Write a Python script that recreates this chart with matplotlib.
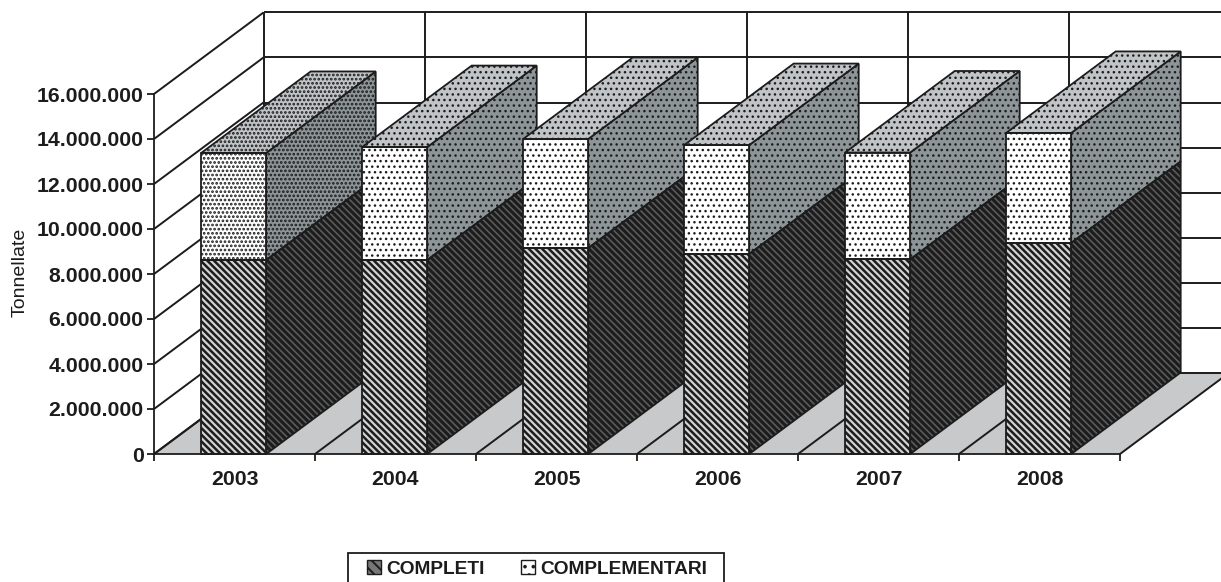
import matplotlib
matplotlib.use("Agg")
import matplotlib.pyplot as plt
from matplotlib.patches import Polygon, Patch, Rectangle

plt.rcParams["font.family"] = ["Liberation Sans", "DejaVu Sans"]

years = ["2003", "2004", "2005", "2006", "2007", "2008"]
completi = [8.62, 8.62, 9.15, 8.89, 8.65, 9.38]
complementari = [4.76, 5.02, 4.85, 4.84, 4.75, 4.89]
y_ticks = [0, 2, 4, 6, 8, 10, 12, 14, 16]
y_labels = ["0", "2.000.000", "4.000.000", "6.000.000", "8.000.000",
            "10.000.000", "12.000.000", "14.000.000", "16.000.000"]

W, H = 1221, 582
INK = "#1c1c1c"
# depth of the fake 3D, in category widths and millions of tonnes
DX = 109.5 / 161
DY = 81.5 / 22.5
BAR_W = 65 / 161
STRIPES = "\\" * 5

fig = plt.figure(figsize=(W / 100, H / 100), dpi=100)
ax = fig.add_axes([154 / W, 1 - 454 / H, 966 / W, 360 / H])
ax.set_xlim(0, 6)
ax.set_ylim(0, 16)
for side in ["top", "right"]:
    ax.spines[side].set_visible(False)
for side in ["left", "bottom"]:
    ax.spines[side].set_linewidth(1.3)
    ax.spines[side].set_color(INK)
    ax.spines[side].set_zorder(20)


def poly(pts, fc, hatch=None, z=5, lw=1.3, hlw=1.0):
    plt.rcParams["hatch.linewidth"] = hlw
    ax.add_patch(Polygon(pts, closed=True, facecolor=fc, edgecolor=INK, linewidth=0,
                         hatch=hatch, zorder=z, clip_on=False))
    if lw:
        ax.add_patch(Polygon(pts, closed=True, facecolor="none", edgecolor=INK, linewidth=lw,
                             zorder=z + 0.2, clip_on=False))


def line(xs, ys, z=2):
    ax.plot(xs, ys, color=INK, lw=1.4, zorder=z, clip_on=False, solid_capstyle="butt")


# floor
poly([(0, 0), (DX, DY), (6 + DX, DY), (6, 0)], "#c7c9ca", z=1, lw=0)
# walls
for t in y_ticks:
    line([0, DX], [t, t + DY])
    line([DX, 6.7], [t + DY, t + DY])
for i in range(7):
    if i < 6:
        line([i + DX, i + DX], [DY, 16 + DY])
    line([i, i + DX], [0, DY], z=3)

# bars
for i in range(len(years)):
    x0 = i + (1 - BAR_W) / 2 - 0.005
    x1 = x0 + BAR_W
    y1 = completi[i]
    y2 = y1 + complementari[i]
    dots = "...." if i == 0 else "..."
    dot_lw = 1.3 if i == 0 else 1.0
    poly([(x1, 0), (x1 + DX, DY), (x1 + DX, y1 + DY), (x1, y1)], "#5c5c5c", STRIPES, hlw=2.2)
    poly([(x0, 0), (x1, 0), (x1, y1), (x0, y1)], "#d4d4d4", STRIPES, z=6, hlw=1.8)
    poly([(x1, y1), (x1 + DX, y1 + DY), (x1 + DX, y2 + DY), (x1, y2)], "#8d9598", dots, hlw=dot_lw)
    poly([(x0, y1), (x1, y1), (x1, y2), (x0, y2)], "white", dots, z=6, hlw=dot_lw)
    poly([(x0, y2), (x1, y2), (x1 + DX, y2 + DY), (x0 + DX, y2 + DY)], "#c0c4c6", dots, z=6, hlw=dot_lw)

ax.set_yticks(y_ticks)
ax.set_yticklabels(y_labels, fontsize=15.3, fontweight="bold", color=INK)
ax.set_xticks(range(7))
ax.set_xticklabels([""] * 7)
ax.set_xticks([i + 0.5 for i in range(6)], minor=True)
ax.set_xticklabels(years, minor=True, fontsize=15.3, fontweight="bold", color=INK)
ax.tick_params(axis="x", which="minor", length=0, pad=11.5)
ax.tick_params(axis="both", which="major", length=5, width=1.3, color=INK)
ax.tick_params(axis="y", pad=2.5)
ax.set_ylabel("Tonnellate", fontsize=14, labelpad=5.5, color=INK, y=0.505)

# legend box runs off the bottom of the picture in the original
fig.add_artist(Rectangle((348 / W, 1 - 590 / H), 376 / W, 37 / H, transform=fig.transFigure,
                         facecolor="white", edgecolor=INK, linewidth=1.3))
plt.rcParams["hatch.linewidth"] = 1.4
handles = [Patch(facecolor="#777777", edgecolor=INK, hatch="\\\\\\"),
           Patch(facecolor="white", edgecolor=INK, hatch="..")]
leg = fig.legend(handles, ["COMPLETI", "COMPLEMENTARI"], ncol=2, loc="center",
                 bbox_to_anchor=(537 / W, 1 - 569 / H), frameon=False,
                 prop={"size": 13.8, "weight": "bold"}, labelcolor=INK,
                 handlelength=0.75, handleheight=0.7, handletextpad=0.25, columnspacing=1.9,
                 borderpad=0, borderaxespad=0)
leg.set_zorder(5)

fig.savefig("out.png", dpi=100)
